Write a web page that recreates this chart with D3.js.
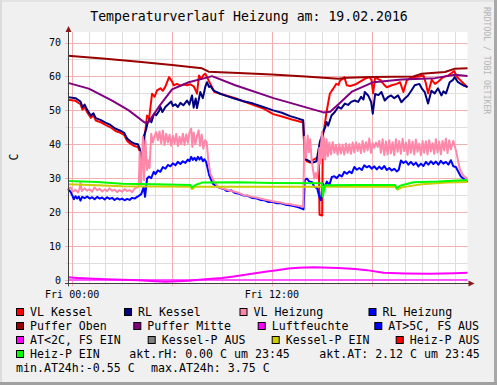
<!DOCTYPE html>
<html><head><meta charset="utf-8">
<script src="https://cdn.jsdelivr.net/npm/d3@7"></script>
<style>
html,body{margin:0;padding:0;background:#f0f0f0;}
svg{display:block;}
text{font-family:"DejaVu Sans Mono",monospace;}
</style></head>
<body>
<script>
// ---------------- DATA (hours since Fri 00:00, value °C) ----------------
const title = "Temperaturverlauf Heizung am: 19.02.2016";
const yLabel = "C";
const yTicks = [0,10,20,30,40,50,60,70];
const xTickHours = [0,12];
const xTickLabels = ["Fri 00:00","Fri 12:00"];

const vlKessel = [[-0.25,53.1],[0.2,52.8],[0.5,51.8],[0.62,50.2],[0.75,50.9],[0.92,49.3],[1.12,47.8],[1.28,48.5],[1.42,47.0],[1.7,46.5],[2.0,45.7],[2.3,45.0],[2.6,43.9],[2.9,43.4],[3.12,42.8],[3.3,41.0],[3.5,40.2],[3.72,39.5],[3.95,39.2],[4.06,38.0],[4.15,37.2],[4.25,38.0],[4.33,41.2],[4.42,45.0],[4.5,48.5],[4.62,47.5],[4.8,54.9],[4.95,54.0],[5.1,55.9],[5.3,56.5],[5.45,55.8],[5.6,57.0],[5.82,59.8],[6.0,58.5],[6.1,57.4],[6.3,57.8],[6.5,57.3],[6.7,57.6],[6.9,57.4],[7.1,57.7],[7.3,57.1],[7.42,55.9],[7.5,54.9],[7.62,60.3],[7.75,59.3],[7.9,60.5],[8.0,60.8],[8.15,59.3],[8.3,57.8],[8.55,55.4],[8.9,54.9],[9.5,54.0],[9.9,53.4],[10.5,52.3],[10.9,51.6],[11.5,50.5],[12.08,48.9],[12.6,48.2],[13.2,47.3],[13.88,46.4],[13.97,36.0],[14.1,35.0],[14.3,34.6],[14.5,35.5],[14.7,36.0],[14.82,35.0],[14.86,19.2],[15.02,19.0],[15.06,42.6],[15.15,45.0],[15.28,49.5],[15.48,54.9],[15.6,55.8],[15.7,56.5],[15.86,57.8],[16.0,57.5],[16.1,58.8],[16.26,59.3],[16.35,59.8],[16.5,57.4],[16.7,57.2],[17.0,57.6],[17.3,58.5],[17.58,59.3],[17.85,59.8],[17.98,59.0],[18.08,55.0],[18.2,59.6],[18.5,59.0],[18.75,57.5],[18.9,56.8],[19.2,57.4],[19.5,57.8],[19.7,58.3],[19.9,55.4],[20.1,58.8],[20.3,59.5],[20.6,59.8],[20.85,60.0],[21.1,60.3],[21.25,58.0],[21.38,55.0],[21.6,59.0],[21.8,57.8],[22.0,58.5],[22.3,59.8],[22.6,60.3],[22.8,61.0],[22.95,61.6],[23.1,60.0],[23.3,59.0],[23.5,58.0],[23.75,56.8]];

const rlKessel = [[-0.25,53.9],[0.2,53.6],[0.5,52.6],[0.62,51.0],[0.75,51.7],[0.92,50.0],[1.12,48.5],[1.28,49.1],[1.42,47.7],[1.7,47.2],[2.0,46.4],[2.3,45.7],[2.6,44.6],[2.9,44.0],[3.12,43.4],[3.3,41.7],[3.5,40.9],[3.72,40.2],[3.95,40.0],[4.06,38.7],[4.18,34.3],[4.25,37.5],[4.32,42.6],[4.45,44.5],[4.52,46.1],[4.66,47.5],[4.76,46.5],[4.92,49.0],[5.05,48.6],[5.22,49.8],[5.3,51.0],[5.42,49.5],[5.6,51.0],[5.82,52.0],[5.95,52.6],[6.05,51.3],[6.2,51.8],[6.35,51.0],[6.5,52.2],[6.68,51.5],[6.9,52.9],[7.04,51.7],[7.2,54.4],[7.3,50.8],[7.42,53.5],[7.5,50.7],[7.7,55.4],[7.85,53.6],[8.0,57.0],[8.1,58.3],[8.22,56.9],[8.3,57.2],[8.5,55.8],[8.9,54.9],[9.3,54.2],[9.74,53.5],[10.3,52.7],[10.88,52.0],[11.3,51.3],[11.78,50.5],[12.08,50.0],[12.6,49.3],[13.1,48.3],[13.5,47.7],[13.88,47.1],[13.97,35.8],[14.18,35.2],[14.42,34.5],[14.68,35.0],[14.88,40.7],[15.08,43.6],[15.2,45.0],[15.28,46.6],[15.38,45.5],[15.58,48.5],[15.78,49.5],[15.98,51.0],[16.16,50.5],[16.38,52.0],[16.58,51.6],[16.76,52.5],[16.98,52.9],[17.18,52.5],[17.36,54.0],[17.5,53.2],[17.58,55.4],[17.78,54.4],[17.96,52.5],[18.06,49.0],[18.2,54.8],[18.4,54.5],[18.58,55.4],[18.78,52.9],[18.95,53.8],[19.16,54.4],[19.35,53.6],[19.58,54.4],[19.78,52.4],[20.0,53.6],[20.18,54.4],[20.4,56.0],[20.58,57.4],[20.86,57.8],[21.0,56.5],[21.18,55.4],[21.38,52.0],[21.58,55.8],[21.78,55.0],[21.98,56.5],[22.18,54.4],[22.3,55.6],[22.46,55.0],[22.68,58.3],[22.88,59.0],[22.98,59.8],[23.18,58.3],[23.48,57.4],[23.75,56.9]];

const vlHeizung = [[-0.25,26.8],[-0.1,27.3],[0.05,26.0],[0.2,26.6],[0.35,25.8],[0.45,27.0],[0.5,28.9],[0.58,26.2],[0.75,27.0],[0.9,26.3],[1.05,26.8],[1.2,26.0],[1.35,27.3],[1.5,26.4],[1.65,26.9],[1.8,26.1],[1.95,26.7],[2.1,26.2],[2.25,27.0],[2.4,26.3],[2.55,26.6],[2.7,25.9],[2.85,26.5],[3.0,26.0],[3.15,26.8],[3.3,26.2],[3.45,26.5],[3.6,25.9],[3.75,26.9],[3.9,27.3],[4.0,27.6],[4.06,37.7],[4.14,28.0],[4.25,42.2],[4.32,29.4],[4.4,41.2],[4.5,32.4],[4.58,35.3],[4.65,33.0],[4.75,43.1],[4.85,40.5],[4.95,42.5],[5.05,43.6],[5.15,41.2],[5.25,43.8],[5.35,40.3],[5.45,44.0],[5.55,39.8],[5.65,43.1],[5.75,40.5],[5.85,42.8],[5.95,39.6],[6.05,42.5],[6.15,40.2],[6.25,43.0],[6.35,39.5],[6.45,42.2],[6.55,40.0],[6.65,43.1],[6.75,39.8],[6.85,42.9],[6.95,40.4],[7.05,43.5],[7.15,44.6],[7.22,39.2],[7.3,43.5],[7.4,40.0],[7.5,42.5],[7.6,44.1],[7.68,39.5],[7.78,42.9],[7.88,38.7],[7.98,41.2],[8.08,40.7],[8.18,35.3],[8.3,31.4],[8.48,29.4],[8.78,27.4],[9.0,27.0],[9.3,26.6],[9.55,26.2],[9.78,26.0],[10.05,25.6],[10.3,25.0],[10.55,24.9],[10.8,24.5],[11.05,24.3],[11.3,24.0],[11.55,23.7],[11.78,23.5],[12.05,23.2],[12.3,23.0],[12.55,22.8],[12.8,22.5],[13.05,22.4],[13.3,22.1],[13.6,21.9],[13.88,21.6],[13.95,42.2],[14.05,36.0],[14.15,42.6],[14.22,37.7],[14.3,41.5],[14.38,35.8],[14.45,33.0],[14.55,29.9],[14.62,31.5],[14.7,30.0],[14.78,33.0],[14.85,39.0],[14.9,34.3],[15.0,43.6],[15.06,36.0],[15.12,42.0],[15.2,35.5],[15.28,41.5],[15.36,36.5],[15.45,40.5],[15.55,37.0],[15.65,40.7],[15.75,37.5],[15.85,39.8],[15.95,37.0],[16.05,40.0],[16.15,37.3],[16.25,39.9],[16.35,37.0],[16.45,40.2],[16.55,37.5],[16.65,40.0],[16.75,37.2],[16.85,40.5],[16.95,37.6],[17.05,40.6],[17.15,38.0],[17.25,40.2],[17.35,37.4],[17.45,41.0],[17.55,37.8],[17.65,40.6],[17.75,38.2],[17.85,41.7],[17.95,37.5],[18.05,40.3],[18.15,39.0],[18.25,40.5],[18.35,39.2],[18.45,41.0],[18.55,37.5],[18.65,41.5],[18.75,36.8],[18.85,40.8],[18.95,37.0],[19.05,41.2],[19.15,37.3],[19.25,40.6],[19.35,36.8],[19.45,41.5],[19.55,37.8],[19.65,41.0],[19.75,37.2],[19.85,41.6],[19.95,38.0],[20.05,40.5],[20.15,36.9],[20.25,41.3],[20.35,37.5],[20.45,40.8],[20.55,37.0],[20.65,41.4],[20.75,37.8],[20.85,40.2],[20.95,36.8],[21.05,41.0],[21.15,37.5],[21.25,40.9],[21.35,37.0],[21.45,41.2],[21.55,37.9],[21.65,40.3],[21.75,37.2],[21.85,41.5],[21.95,37.6],[22.05,40.8],[22.15,37.0],[22.25,41.0],[22.35,38.2],[22.45,41.7],[22.55,37.4],[22.65,41.2],[22.75,38.5],[22.9,41.0],[23.08,37.7],[23.28,32.8],[23.48,30.9],[23.75,29.8]];

const rlHeizung = [[-0.25,26.8],[-0.1,26.0],[0.0,25.0],[0.1,23.8],[0.2,24.7],[0.3,24.0],[0.4,24.6],[0.5,23.4],[0.6,24.5],[0.75,24.1],[0.9,24.6],[1.05,24.0],[1.2,24.4],[1.35,23.8],[1.5,24.5],[1.65,24.0],[1.8,24.3],[1.95,23.7],[2.1,24.4],[2.25,23.9],[2.4,24.2],[2.55,23.6],[2.7,24.1],[2.85,23.7],[3.0,24.0],[3.15,23.5],[3.3,23.9],[3.45,23.6],[3.6,24.2],[3.75,24.0],[3.9,24.5],[4.0,24.8],[4.15,25.3],[4.3,27.4],[4.38,24.5],[4.5,29.9],[4.62,30.5],[4.75,30.0],[4.9,31.9],[5.0,31.2],[5.15,32.3],[5.3,31.9],[5.45,33.3],[5.6,32.8],[5.75,33.9],[5.9,33.5],[6.05,34.4],[6.2,33.8],[6.35,34.8],[6.5,34.2],[6.65,35.0],[6.8,34.5],[6.95,35.5],[7.05,35.0],[7.15,36.3],[7.25,35.4],[7.35,36.0],[7.45,35.2],[7.55,36.3],[7.65,35.5],[7.75,36.2],[7.85,35.0],[7.95,35.6],[8.05,34.8],[8.12,33.3],[8.23,30.9],[8.45,28.4],[8.7,27.5],[8.95,27.0],[9.15,26.7],[9.3,26.2],[9.55,26.4],[9.8,25.6],[10.05,25.4],[10.3,24.9],[10.55,24.8],[10.8,24.2],[11.05,24.1],[11.3,23.6],[11.55,23.5],[11.8,23.0],[12.05,23.0],[12.3,22.6],[12.55,22.6],[12.8,22.2],[13.05,22.0],[13.3,21.8],[13.6,21.4],[13.9,20.8],[13.97,29.4],[14.1,29.9],[14.25,29.0],[14.4,28.9],[14.55,27.5],[14.72,27.0],[14.85,24.5],[14.95,23.5],[15.05,28.4],[15.15,27.2],[15.3,29.0],[15.45,28.0],[15.6,30.4],[15.75,30.6],[15.9,30.0],[16.05,31.0],[16.2,30.5],[16.35,31.9],[16.5,31.3],[16.65,32.0],[16.8,31.5],[16.95,33.3],[17.1,32.5],[17.25,33.0],[17.4,32.4],[17.55,33.8],[17.7,33.2],[17.85,33.6],[18.0,32.8],[18.15,33.5],[18.3,32.6],[18.45,33.4],[18.6,32.7],[18.75,33.6],[18.9,32.4],[19.05,33.0],[19.2,32.3],[19.35,32.8],[19.5,32.0],[19.62,32.5],[19.75,35.2],[19.9,34.5],[20.05,35.0],[20.2,34.0],[20.35,34.8],[20.5,33.9],[20.65,34.6],[20.8,33.5],[20.95,34.3],[21.1,33.6],[21.25,34.8],[21.4,34.0],[21.55,35.0],[21.7,34.2],[21.85,34.9],[22.0,34.0],[22.15,35.1],[22.3,34.3],[22.45,34.8],[22.6,34.0],[22.75,35.3],[22.9,33.5],[23.05,33.3],[23.2,31.9],[23.35,30.5],[23.5,29.9],[23.75,28.9]];

const pufferOben = [[-0.25,66.1],[2,65.2],[4,64.3],[6,63.4],[7.8,62.4],[8.2,61.4],[10,61.0],[12,60.6],[14,60.0],[16,59.3],[16.5,59.6],[18,59.8],[20.5,60.0],[21,60.8],[22.4,61.3],[23,62.3],[23.75,62.4]];
const pufferMitte = [[-0.25,58.1],[1,56.4],[2.4,52.9],[3.4,50.0],[4.35,46.4],[4.6,46.6],[5.2,51.0],[6,56.2],[7,58.3],[8.2,59.8],[8.4,60.1],[9.8,57.4],[12.1,53.6],[15.1,49.4],[15.5,49.6],[16,51.8],[16.8,55.5],[18.1,58.3],[19.8,59.1],[21.8,59.5],[23,60.5],[23.75,60.1]];
const luftfeuchte = [[-0.25,0.0],[23.75,0.0]];
const aussenTemp = [[-0.25,0.8],[0.3,0.6],[1,0.4],[2,0.2],[3,0.1],[4,-0.1],[5,-0.35],[5.6,-0.55],[6.3,-0.4],[7,-0.2],[8,0.2],[9,0.6],[9.7,1.0],[10.5,1.6],[11.7,2.5],[12.3,2.9],[13,3.4],[13.6,3.6],[14.5,3.75],[16,3.55],[17,3.2],[17.7,2.9],[18.7,2.1],[20,1.9],[21.5,1.8],[23,2.0],[23.75,2.12]];
const kesselP = [[-0.25,28.2],[1.5,27.9],[3,27.6],[7.1,27.5],[7.2,26.8],[7.4,27.5],[12,27.5],[15,27.5],[19.4,27.5],[19.55,26.6],[19.8,27.3],[21,28.2],[22.5,28.7],[23.75,28.9]];
const heizP = [[-0.25,29.2],[1.5,28.9],[3,28.4],[5,28.2],[7.1,28.0],[7.2,27.3],[7.4,28.0],[7.8,28.7],[10,28.8],[12,28.6],[15,28.5],[15.05,24.6],[15.2,27.9],[17,28.0],[19.4,28.0],[19.5,27.0],[19.7,27.8],[20.5,28.8],[22,29.0],[23.75,29.5]];

const legendLabels = ["VL Kessel","RL Kessel","VL Heizung","RL Heizung","Puffer Oben","Puffer Mitte","Luftfeuchte","AT>5C, FS AUS","AT<2C, FS EIN","Kessel-P AUS","Kessel-P EIN","Heiz-P AUS","Heiz-P EIN"];
const legendColors = ["#ff0000","#000080","#ff88aa","#0000ff","#990000","#800080","#ff00ff","#0000ff","#ff00ff","#808080","#cccc00","#ff0000","#00ff00"];
const infoTexts = ["akt.rH: 0.00 C um 23:45","akt.AT: 2.12 C um 23:45","min.AT24h:-0.55 C","max.AT24h: 3.75 C"];

// ---------------- LAYOUT ----------------
const W = 497, H = 385;
const plot = {l:68, r:467.5, t:32, b:283.3};
const legendPos = [[16,0],[124,0],[239.5,0],[368.5,0],[16,1],[133.3,1],[257.7,1],[374.3,1],[16,2],[147.7,2],[271.7,2],[395.7,2],[16,3]];
const infoPos = [[129.3,3],[319.3,3],[16,4],[151,4]];
const rowBase = [315.5,329.5,343.5,357.5,371.5];

const svg = d3.select("body").append("svg").attr("width",W).attr("height",H);

// canvas and border
svg.append("rect").attr("width",W).attr("height",H).attr("fill","#f0f0f0");
svg.append("rect").attr("x",0).attr("y",0).attr("width",W).attr("height",2).attr("fill","#e2e2e2");
svg.append("rect").attr("x",0).attr("y",0).attr("width",2).attr("height",H).attr("fill","#dcdcdc");
svg.append("rect").attr("x",W-3).attr("y",0).attr("width",3).attr("height",H).attr("fill","#a8a8a8");
svg.append("rect").attr("x",0).attr("y",H-3).attr("width",W).attr("height",3).attr("fill","#a0a0a0");

const x = d3.scaleLinear().domain([-0.25,23.75]).range([plot.l, plot.r]);
const y = d3.scaleLinear().domain([-0.98,73.1]).range([plot.b, plot.t]);

svg.append("rect").attr("x",plot.l).attr("y",plot.t).attr("width",plot.r-plot.l).attr("height",plot.b-plot.t).attr("fill","#ffffff");

// grid
const g = svg.append("g");
const minorH = d3.range(0,24,1);
g.selectAll(".vmin").data(minorH.filter(h=>h%6!==0)).enter().append("line")
  .attr("x1",d=>Math.round(x(d))+0.5).attr("x2",d=>Math.round(x(d))+0.5)
  .attr("y1",plot.t).attr("y2",plot.b+2).attr("stroke","#dedede").attr("stroke-width",1);
const minorV = d3.range(5,75,10);
g.selectAll(".hmin").data(minorV).enter().append("line")
  .attr("y1",d=>Math.round(y(d))+0.5).attr("y2",d=>Math.round(y(d))+0.5)
  .attr("x1",plot.l-2).attr("x2",plot.r).attr("stroke","#dedede").attr("stroke-width",1);
g.selectAll(".vmaj").data(minorH.filter(h=>h%6===0)).enter().append("line")
  .attr("x1",d=>Math.round(x(d))+0.5).attr("x2",d=>Math.round(x(d))+0.5)
  .attr("y1",plot.t).attr("y2",plot.b+3).attr("stroke","#f2b0b0").attr("stroke-width",1);
g.selectAll(".hmaj").data(yTicks).enter().append("line")
  .attr("y1",d=>Math.round(y(d))+0.5).attr("y2",d=>Math.round(y(d))+0.5)
  .attr("x1",plot.l-3).attr("x2",plot.r).attr("stroke","#f2b0b0").attr("stroke-width",1);

// y tick labels
svg.append("g").selectAll("text").data(yTicks).enter().append("text")
  .attr("x",61).attr("y",d=>y(d)).attr("dy","0.36em").attr("text-anchor","end")
  .attr("font-size","10px").attr("fill","#000").text(d=>d);
// x tick labels
svg.append("g").selectAll("text").data(xTickHours).enter().append("text")
  .attr("x",d=>x(d)).attr("y",297.5).attr("text-anchor","middle")
  .attr("font-size","10px").attr("fill","#000").text((d,i)=>xTickLabels[i]);

// series
const line = d3.line().x(d=>x(d[0])).y(d=>y(d[1]));
const series = [
  [vlKessel,"#ff0000"],[rlKessel,"#000080"],[rlHeizung,"#0000ff"],[vlHeizung,"#ff88aa"],
  [pufferOben,"#990000"],[pufferMitte,"#800080"],[luftfeuchte,"#ff55ff"],[aussenTemp,"#ff00ff"],
  [kesselP,"#cccc00"],[heizP,"#00ff00"]
];
const sg = svg.append("g");
series.forEach(([data,col])=>{
  sg.append("path").datum(data).attr("d",line).attr("fill","none")
    .attr("stroke",col).attr("stroke-width",2).attr("stroke-linejoin","round");
});

// axes
const axCol = "#404040", arCol = "#8b1a1a";
svg.append("line").attr("x1",plot.l+0.5).attr("x2",plot.l+0.5).attr("y1",plot.b+3).attr("y2",plot.t-4).attr("stroke",axCol);
svg.append("line").attr("x1",plot.l-3).attr("x2",plot.r+4).attr("y1",Math.round(plot.b)+0.5).attr("y2",Math.round(plot.b)+0.5).attr("stroke",axCol);
svg.append("path").attr("d",`M${plot.l-2.5},${plot.t} L${plot.l+3.5},${plot.t} L${plot.l+0.5},${plot.t-6} Z`).attr("fill",arCol);
const yb = Math.round(plot.b)+0.5;
svg.append("path").attr("d",`M${plot.r+1},${yb-3} L${plot.r+1},${yb+3} L${plot.r+7},${yb} Z`).attr("fill",arCol);

// title and labels
svg.append("text").attr("x",249).attr("y",21).attr("text-anchor","middle")
  .attr("font-size","13.2px").attr("fill","#000").text(title);
svg.append("text").attr("transform","translate(18,157) rotate(-90)").attr("text-anchor","middle")
  .attr("font-size","11.6px").attr("fill","#000").text(yLabel);
svg.append("text").attr("transform","translate(484,7) rotate(90)").attr("text-anchor","start")
  .attr("font-size","8.1px").attr("fill","#b4b4b4").text("RRDTOOL / TOBI OETIKER");

// legend
const lg = svg.append("g");
legendLabels.forEach((lab,i)=>{
  const [lx,row] = legendPos[i];
  const b = rowBase[row];
  lg.append("rect").attr("x",lx+0.5).attr("y",b-7).attr("width",7).attr("height",7)
    .attr("fill",legendColors[i]).attr("stroke","#000").attr("stroke-width",1);
  lg.append("text").attr("x",lx+14).attr("y",b).attr("font-size","11.6px").attr("fill","#000").text(lab);
});
infoTexts.forEach((t,i)=>{
  const [lx,row] = infoPos[i];
  lg.append("text").attr("x",lx).attr("y",rowBase[row]).attr("font-size","11.6px").attr("fill","#000").text(t);
});
</script>
</body></html>
